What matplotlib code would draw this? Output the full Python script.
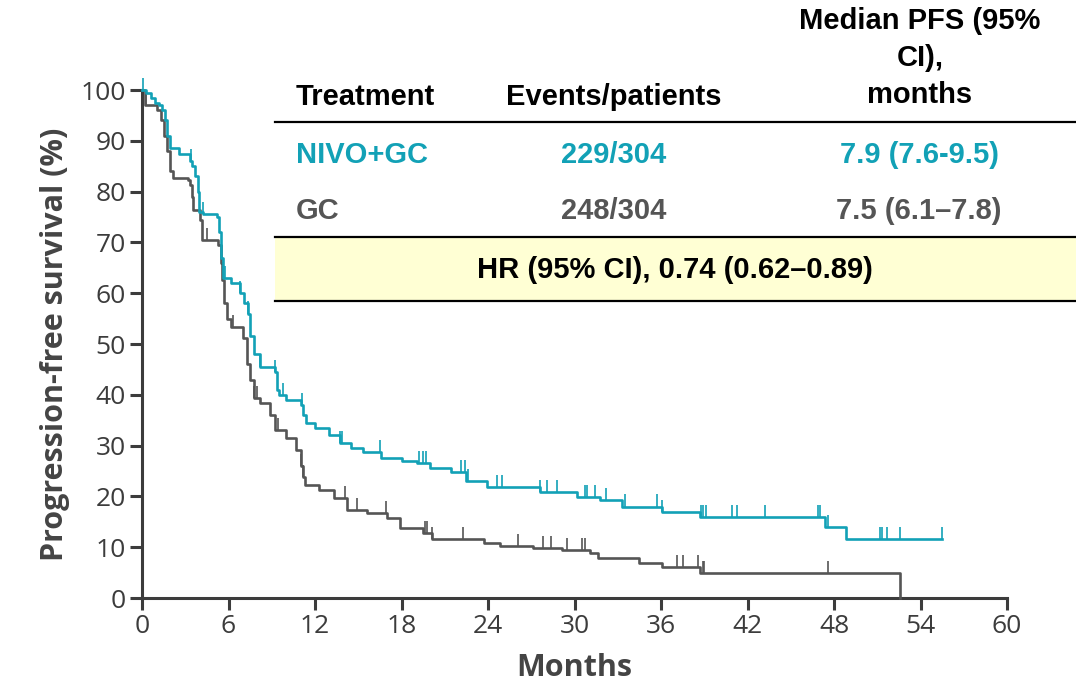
import numpy as np
import matplotlib
matplotlib.use("Agg")
import matplotlib.pyplot as plt
from matplotlib.patches import Rectangle
from matplotlib.lines import Line2D

# Kaplan-Meier steps (months, PFS %)
nivo_t = [0, 0.3, 0.6, 0.9, 1.2, 1.4, 1.6, 1.75, 1.95, 2.6, 3.3, 3.5, 3.7, 3.85, 3.95,
          4.2, 5.2, 5.35, 5.5, 5.6, 6.2, 6.8, 7.1, 7.35, 7.5, 7.8, 8.2, 9.2, 9.35, 9.5,
          10.0, 11.0, 11.2, 11.4, 12.0, 13.0, 13.7, 14.5, 15.3, 16.6, 18.0, 19.1, 20.0,
          21.4, 22.5, 23.9, 27.6, 30.2, 31.8, 33.3, 36.1, 38.7, 47.4, 48.8, 55.5]
nivo_s = [100, 99.5, 98.5, 97.5, 97, 96, 94, 91, 88.5, 87.5, 86, 85, 83, 80, 76,
          75.5, 75, 72, 67, 63, 62, 60, 58, 56, 51.5, 48, 45.5, 44.5, 41, 40,
          39, 38, 36, 34.5, 33.5, 32, 30.5, 29.5, 28.7, 27.5, 27, 26.5, 25.6,
          24.8, 23, 21.9, 20.9, 19.9, 19.3, 18.0, 16.9, 15.9, 14.0, 11.6, 11.6]
nivo_cens = [0.1, 3.4, 4.2, 5.75, 6.8, 7.35, 8.2, 9.2, 9.8, 11.1, 13.7, 13.9, 16.5,
             19.2, 19.5, 19.7, 22.1, 22.4, 22.6, 24.6, 25.0, 27.6, 28.1, 28.8,
             30.7, 30.9, 31.4, 32.2, 33.5, 35.7, 36.1, 38.8, 38.9, 39.1, 40.9, 41.3,
             43.2, 46.9, 47.0, 47.6, 51.2, 51.3, 51.7, 52.6, 55.5]

gc_t = [0, 0.2, 1.05, 1.3, 1.5, 1.75, 1.95, 2.15, 3.2, 3.3, 3.45, 3.55, 4.0, 4.15,
        5.3, 5.45, 5.55, 5.7, 5.9, 6.2, 7.0, 7.3, 7.5, 7.8, 8.2, 8.9, 9.2, 10.0,
        10.7, 11.0, 11.2, 11.3, 12.3, 13.3, 14.2, 15.6, 17.0, 17.9, 19.5, 20.1,
        23.7, 24.8, 27.1, 29.1, 31.1, 31.6, 34.5, 36.1, 38.7, 52.6]
gc_s = [100, 97, 96, 94, 91, 88, 84, 82.7, 82.3, 81.3, 79, 76.4, 74.4, 70.5,
        69.5, 66, 62.6, 58, 55, 53.3, 51.2, 46, 43, 39.4, 38.4, 36, 33, 31.5,
        29.1, 26, 23.8, 22.2, 21.3, 19.7, 17.3, 16.7, 15.7, 13.8, 12.8, 11.6,
        10.8, 10.2, 9.8, 9.4, 8.8, 7.9, 6.9, 6.1, 4.9, 0]
gc_cens = [0.3, 4.5, 6.3, 7.8, 8.0, 9.4, 11.0, 11.2, 14.1, 14.9, 16.9, 19.6, 19.8,
           20.1, 22.3, 26.1, 27.8, 28.4, 29.5, 30.5, 30.7, 37.1, 37.5, 38.6, 38.9,
           39.0, 47.6]

x_ticks = [0, 6, 12, 18, 24, 30, 36, 42, 48, 54, 60]
y_ticks = [0, 10, 20, 30, 40, 50, 60, 70, 80, 90, 100]

teal = "#12a1b6"
grey = "#555555"
axis_col = "#3c3c3c"

plt.rcParams["font.family"] = "Open Sans"

W, H = 1076, 696
fig = plt.figure(figsize=(W / 100, H / 100), dpi=100)
ax = fig.add_axes([142 / W, 1 - 598 / H, (1007 - 142) / W, (598 - 90) / H])


def surv_at(times, surv, t):
    i = np.searchsorted(times, t, side="right") - 1
    return np.asarray(surv)[i]


for t, s, c, col in [(gc_t, gc_s, gc_cens, grey), (nivo_t, nivo_s, nivo_cens, teal)]:
    ax.step(t, s, where="post", color=col, lw=1.9, clip_on=False, zorder=3)
    cs = surv_at(np.asarray(t), s, np.asarray(c))
    ax.vlines(c, cs, cs + 2.4, color=col, lw=1.2, clip_on=False, zorder=3)

ax.set_xlim(0, 60)
ax.set_ylim(0, 100)
ax.set_xticks(x_ticks)
ax.set_yticks(y_ticks)
for sp in ["top", "right"]:
    ax.spines[sp].set_visible(False)
for sp in ["left", "bottom"]:
    ax.spines[sp].set_color(axis_col)
    ax.spines[sp].set_linewidth(2.2)
ax.tick_params(length=8.5, width=2.2, color=axis_col, labelcolor=axis_col,
               labelsize=19, pad=3)

ax.set_xlabel("Months", fontsize=22, fontweight="bold", color="#444444", labelpad=10)
ax.set_ylabel("Progression-free survival (%)", fontsize=22, fontweight="bold",
              color="#444444", labelpad=8)

# table in the upper right
def fx(px):
    return px / W


def fy(py):
    return 1 - py / H


tf, fs = "Liberation Sans", 21

fig.add_artist(Rectangle((fx(275), fy(301)), fx(1076) - fx(275), fy(237) - fy(301),
                         transform=fig.transFigure, facecolor="#ffffd4",
                         edgecolor="none", zorder=1))
for py in [122, 237, 301]:
    fig.add_artist(Line2D([fx(275), fx(1076)], [fy(py), fy(py)], color="black",
                          lw=1.6, transform=fig.transFigure, zorder=2))

fig.text(fx(296), fy(97), "Treatment", ha="left", va="center", fontsize=fs,
         fontweight="bold", family=tf, color="black")
fig.text(fx(614), fy(97), "Events/patients", ha="center", va="center", fontsize=fs,
         fontweight="bold", family=tf, color="black")
fig.text(fx(920), fy(58), "Median PFS (95%\nCI),\nmonths", ha="center", va="center",
         fontsize=fs, fontweight="bold", family=tf, color="black", linespacing=1.4)

rows = [("NIVO+GC", "229/304", "7.9 (7.6-9.5)", teal, 155),
        ("GC", "248/304", "7.5 (6.1\u20137.8)", grey, 211)]
for name, ev, med, col, py in rows:
    fig.text(fx(296), fy(py), name, ha="left", va="center", fontsize=fs,
             fontweight="bold", family=tf, color=col)
    fig.text(fx(614), fy(py), ev, ha="center", va="center", fontsize=fs,
             fontweight="bold", family=tf, color=col)
    fig.text(fx(919), fy(py), med, ha="center", va="center", fontsize=fs,
             fontweight="bold", family=tf, color=col)

fig.text(fx(675), fy(270), "HR (95% CI), 0.74 (0.62\u20130.89)", ha="center",
         va="center", fontsize=fs, fontweight="bold", family=tf, color="black")

fig.savefig("out.png", dpi=100)
